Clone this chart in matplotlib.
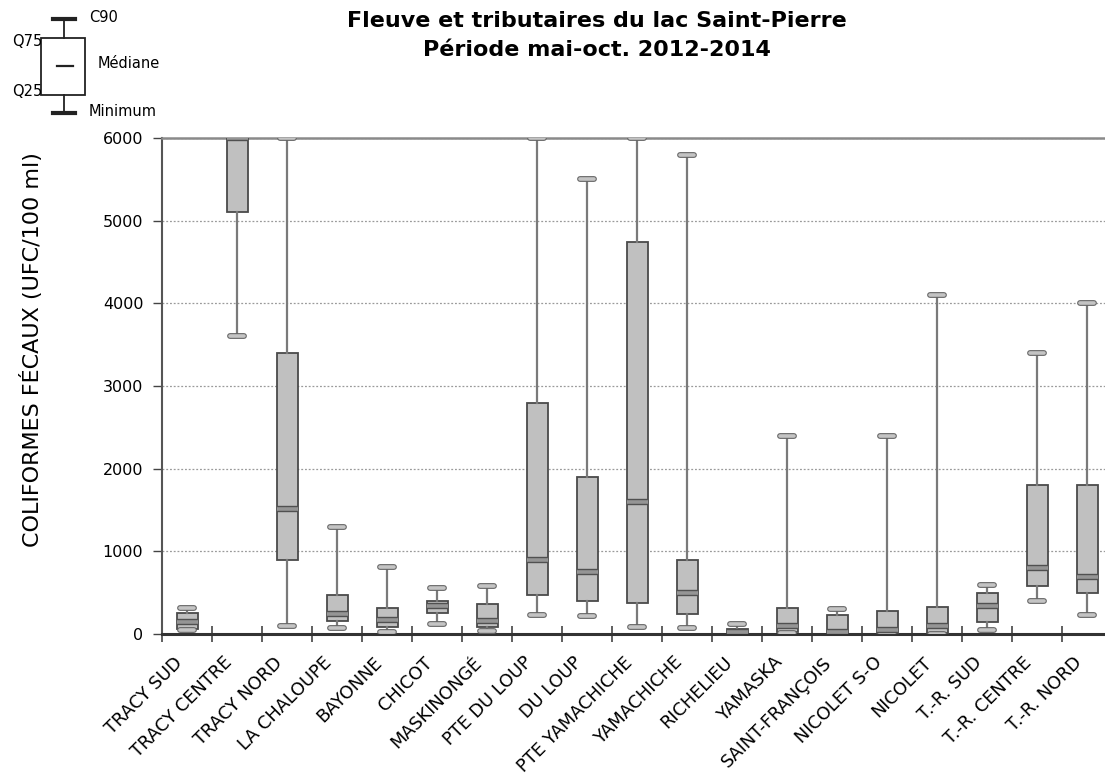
import matplotlib
matplotlib.use("Agg")
import matplotlib.pyplot as plt
import matplotlib.patheffects as pe
from matplotlib.ticker import FixedLocator, NullFormatter
from matplotlib.transforms import ScaledTranslation

plt.rcParams['font.family'] = ['DejaVu Sans']

stations = ["TRACY SUD", "TRACY CENTRE", "TRACY NORD", "LA CHALOUPE", "BAYONNE",
            "CHICOT", "MASKINONGÉ", "PTE DU LOUP", "DU LOUP", "PTE YAMACHICHE",
            "YAMACHICHE", "RICHELIEU", "YAMASKA", "SAINT-FRANÇOIS", "NICOLET S-O",
            "NICOLET", "T.-R. SUD", "T.-R. CENTRE", "T.-R. NORD"]

minimum = [50, 3600, 100, 70, 30, 115, 40, 230, 215, 90, 75, 0, 10, 5, 5, 5, 50, 400, 230]
q25     = [60, 5100, 900, 155, 80, 250, 80, 470, 395, 375, 245, 5, 25, 10, 10, 10, 150, 575, 495]
median  = [150, 6000, 1510, 240, 175, 340, 160, 895, 745, 1600, 500, 30, 100, 30, 50, 100, 335, 800, 695]
q75     = [260, 6000, 3400, 475, 310, 400, 360, 2800, 1895, 4745, 890, 58, 310, 235, 275, 330, 495, 1800, 1800]
c90     = [315, 6000, 6000, 1300, 805, 555, 575, 6000, 5500, 6000, 5800, 125, 2400, 305, 2400, 4100, 595, 3400, 4000]

fig = plt.figure(figsize=(11.05, 7.81), dpi=100)
ax = fig.add_axes([162 / 1105, 147 / 781, 950 / 1105, 496 / 781])

stats = [dict(label=s, whislo=lo, q1=a, med=m, q3=b, whishi=hi)
         for s, lo, a, m, b, hi in zip(stations, minimum, q25, median, q75, c90)]
positions = list(range(1, len(stations) + 1))

cap_fx = [pe.Stroke(linewidth=4.2, foreground='#666666'), pe.Normal()]
med_fx = [pe.Stroke(linewidth=4.6, foreground='#505050'), pe.Normal()]

ax.bxp(stats, positions=positions, widths=0.42, capwidths=0.28,
       showfliers=False, patch_artist=True,
       boxprops=dict(facecolor='#c0c0c0', edgecolor='#4a4a4a', linewidth=1.3),
       whiskerprops=dict(color='#7a7a7a', linewidth=1.6),
       capprops=dict(color='#c4c4c4', linewidth=2.6, solid_capstyle='round',
                     path_effects=cap_fx),
       medianprops=dict(color='#959595', linewidth=2.6, solid_capstyle='butt',
                        path_effects=med_fx),
       zorder=3)

ax.set_ylim(0, 6000)
ax.set_xlim(0.5, len(stations) + 0.5)
ax.set_yticks(range(0, 6001, 1000))
ax.yaxis.grid(True, linestyle=(0, (1.5, 1.5)), color='#9a9a9a', linewidth=0.9)
ax.set_axisbelow(True)

ax.set_xticks(positions)
ax.set_xticklabels(stations, rotation=45, ha='right', rotation_mode='anchor', fontsize=12.8)
ax.tick_params(axis='x', which='major', length=0, pad=14)
shift = ScaledTranslation(-14 / 100, 0, fig.dpi_scale_trans)
for lbl in ax.get_xticklabels():
    lbl.set_transform(lbl.get_transform() + shift)
ax.xaxis.set_minor_locator(FixedLocator([p - 0.5 for p in positions] + [len(stations) + 0.5]))
ax.xaxis.set_minor_formatter(NullFormatter())
ax.tick_params(axis='x', which='minor', direction='inout', length=12, width=1.2, color='#444444')
ax.tick_params(axis='y', direction='out', length=6.5, width=1.0, color='#444444',
               labelsize=11.5, pad=7)

ax.spines['right'].set_visible(False)
ax.spines['top'].set_color('#8a8a8a')
ax.spines['top'].set_linewidth(1.8)
ax.spines['left'].set_color('#555555')
ax.spines['left'].set_linewidth(1.5)
ax.spines['bottom'].set_color('#333333')
ax.spines['bottom'].set_linewidth(2.2)

ax.set_ylabel("COLIFORMES FÉCAUX (UFC/100 ml)", fontsize=16)
ax.yaxis.set_label_coords((43 - 162) / 950, (634 - 350) / 496)

fig.text(0.54, 0.986, "Fleuve et tributaires du lac Saint-Pierre\nPériode mai-oct. 2012-2014",
         ha='center', va='top', fontsize=16, fontweight='bold', linespacing=1.55)

# key explaining the box elements, drawn in pixel coordinates
key = fig.add_axes([0, 0, 1, 1], zorder=5)
key.set_xlim(0, 1105)
key.set_ylim(781, 0)
key.axis('off')
key.patch.set_alpha(0)
kc = '#222222'
key.plot([53, 75], [19, 19], color=kc, lw=3)
key.plot([64, 64], [19, 38], color=kc, lw=1.3)
key.add_patch(plt.Rectangle((41, 38), 44, 57, fill=False, edgecolor=kc, lw=1.3))
key.plot([57, 73], [66, 66], color=kc, lw=1.6)
key.plot([64, 64], [95, 113], color=kc, lw=1.3)
key.plot([53, 75], [113, 113], color=kc, lw=3)
kfs = 10.5
key.text(89, 17, "C90", fontsize=kfs, va='center', ha='left')
key.text(42, 42, "Q75", fontsize=kfs, va='center', ha='right')
key.text(98, 63, "Médiane", fontsize=kfs, va='center', ha='left')
key.text(42, 92, "Q25", fontsize=kfs, va='center', ha='right')
key.text(89, 112, "Minimum", fontsize=kfs, va='center', ha='left')

fig.savefig("out.png", dpi=100)
